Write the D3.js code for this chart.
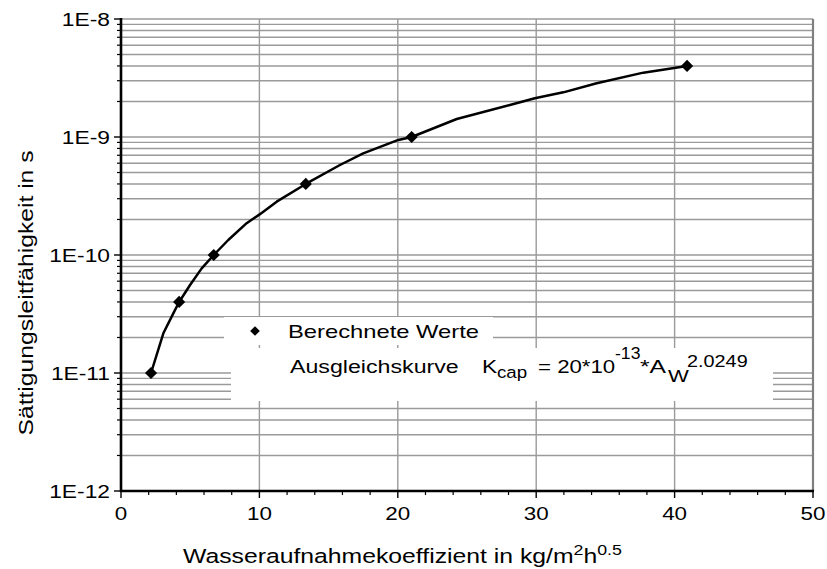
<!DOCTYPE html>
<html><head><meta charset="utf-8">
<script src="https://cdn.jsdelivr.net/npm/d3@7"></script>
<style>
body{margin:0;background:#fff}
svg{display:block}
text{font-family:"Liberation Sans",Arial,sans-serif;fill:#000}
</style>
</head><body>
<svg id="c" width="827" height="569"></svg>
<script>
// Data
const pointX = [2.17, 4.2, 6.7, 13.35, 21.0, 40.9];
const pointY = [1e-11, 4e-11, 1e-10, 4e-10, 1e-9, 4e-9];
const curveX = [2.17, 3.06, 3.78, 4.2, 4.99, 5.83, 6.7, 7.75, 9.08, 10.04, 11.25, 13.35, 15.82, 17.5, 20.04, 21.0, 24.26, 28.1, 29.9, 31.96, 34.37, 37.74, 40.9];
const curveY = [1.0e-11, 2.17e-11, 3.2e-11, 4e-11, 5.57e-11, 7.7e-11, 1e-10, 1.34e-10, 1.86e-10, 2.22e-10, 2.83e-10, 4e-10, 5.79e-10, 7.27e-10, 9.44e-10, 1e-9, 1.42e-9, 1.87e-9, 2.13e-9, 2.39e-9, 2.85e-9, 3.51e-9, 4e-9];
const xTicks = [0, 10, 20, 30, 40, 50];
const xMinorTicks = [2, 4, 6, 8, 12, 14, 16, 18, 22, 24, 26, 28, 32, 34, 36, 38, 42, 44, 46, 48];
const yTicks = [1e-12, 1e-11, 1e-10, 1e-9, 1e-8];
const yTickLabels = ["1E-12", "1E-11", "1E-10", "1E-9", "1E-8"];
const legendPoints = "Berechnete Werte";
const legendCurve = "Ausgleichskurve";
const xTitle = "Wasseraufnahmekoeffizient in kg/m";
const yTitle = "Sättigungsleitfähigkeit in s";

const L = 121, R = 813, T = 19, B = 491;
const svg = d3.select("#c");
const x = d3.scaleLinear().domain([0, 50]).range([L, R]);
const y = d3.scaleLog().domain([1e-12, 1e-8]).range([B, T]);

function txt(parent, tx, ty, str, size, sx, anchor) {
  return parent.append("text")
    .attr("transform", `translate(${tx},${ty}) scale(${sx},1)`)
    .attr("font-size", size).attr("text-anchor", anchor || "start").text(str);
}

const minorY = [];
for (let i = 0; i < yTicks.length - 1; i++) for (let m = 2; m <= 9; m++) minorY.push(yTicks[i] * m);

const grid = svg.append("g").attr("stroke", "#9a9a9a").attr("stroke-width", 1.4);
grid.selectAll("line.hm").data(minorY.concat(yTicks)).join("line")
  .attr("x1", L).attr("x2", R).attr("y1", d => y(d)).attr("y2", d => y(d));
grid.selectAll("line.v").data(xTicks.slice(1, -1)).join("line")
  .attr("x1", d => x(d)).attr("x2", d => x(d)).attr("y1", T).attr("y2", B);

// right border
svg.append("line").attr("x1", R).attr("x2", R).attr("y1", T).attr("y2", B)
  .attr("stroke", "#808080").attr("stroke-width", 2.2);

// legend backgrounds
svg.append("rect").attr("x", 224).attr("y", 317).attr("width", 269).attr("height", 28).attr("fill", "#fff");
svg.append("rect").attr("x", 231).attr("y", 348).attr("width", 542).attr("height", 53).attr("fill", "#fff");

// y axis ticks
svg.append("g").attr("stroke", "#000").attr("stroke-width", 1.2)
  .selectAll("line").data(minorY).join("line")
  .attr("x1", L - 4).attr("x2", L).attr("y1", d => y(d)).attr("y2", d => y(d));
svg.append("g").attr("stroke", "#000").attr("stroke-width", 1.4)
  .selectAll("line").data(yTicks).join("line")
  .attr("x1", L - 7).attr("x2", L).attr("y1", d => y(d)).attr("y2", d => y(d));
const yl = svg.append("g");
yTicks.forEach((d, i) => txt(yl, 110, y(d) + 6.8, yTickLabels[i], 19, 1.2, "end"));

// x axis ticks
svg.append("g").attr("stroke", "#000").attr("stroke-width", 1.2)
  .selectAll("line").data(xMinorTicks).join("line")
  .attr("x1", d => x(d)).attr("x2", d => x(d)).attr("y1", B).attr("y2", B + 4);
svg.append("g").attr("stroke", "#000").attr("stroke-width", 1.4)
  .selectAll("line").data(xTicks).join("line")
  .attr("x1", d => x(d)).attr("x2", d => x(d)).attr("y1", B).attr("y2", B + 7);
const xl = svg.append("g");
xTicks.forEach(d => txt(xl, x(d), 520, String(d), 19, 1.18, "middle"));

// axes lines
svg.append("line").attr("x1", L).attr("x2", L).attr("y1", T - 1).attr("y2", B + 1)
  .attr("stroke", "#000").attr("stroke-width", 2.6);
svg.append("line").attr("x1", L - 1).attr("x2", R + 1).attr("y1", B).attr("y2", B)
  .attr("stroke", "#000").attr("stroke-width", 2.6);

// curve
const line = d3.line().x(d => x(d[0])).y(d => y(d[1])).curve(d3.curveLinear);
svg.append("path").datum(curveX.map((v, i) => [v, curveY[i]]))
  .attr("d", line).attr("fill", "none").attr("stroke", "#000").attr("stroke-width", 2.5)
  .attr("stroke-linejoin", "round");

// points
const diamond = d3.symbol().type(d3.symbolDiamond2).size(95);
svg.append("g").selectAll("path").data(pointX.map((v, i) => [v, pointY[i]])).join("path")
  .attr("d", diamond).attr("transform", d => `translate(${x(d[0])},${y(d[1])})`).attr("fill", "#000");

// legend
svg.append("path").attr("d", d3.symbol().type(d3.symbolDiamond2).size(60)).attr("transform", "translate(255,331)").attr("fill", "#000");
const lg = svg.append("g");
txt(lg, 288, 338, legendPoints, 19, 1.25);
txt(lg, 290, 372.5, legendCurve, 19, 1.22);
txt(lg, 482, 372.5, "K", 19, 1.2);
txt(lg, 497, 378, "cap", 17, 1.1);
txt(lg, 538, 372.5, "= 20*10", 19, 1.17);
txt(lg, 615, 359, "-13", 16, 1.1);
txt(lg, 640, 372.5, "*A", 19, 1.3);
txt(lg, 668, 381.7, "W", 17, 1.3);
txt(lg, 687, 367, "2.0249", 16, 1.24);

// axis titles
const xt = svg.append("text").attr("transform", "translate(183,563) scale(1.27,1)").attr("font-size", 19.5);
xt.append("tspan").text(xTitle);
xt.append("tspan").attr("dy", -8).attr("font-size", 14).text("2");
xt.append("tspan").attr("dy", 8).text("h");
xt.append("tspan").attr("dy", -8).attr("font-size", 14).text("0.5");

svg.append("text").attr("transform", "translate(33,293) rotate(-90) scale(1.265,1)")
  .attr("text-anchor", "middle").attr("font-size", 19.5).text(yTitle);
</script>
</body></html>
